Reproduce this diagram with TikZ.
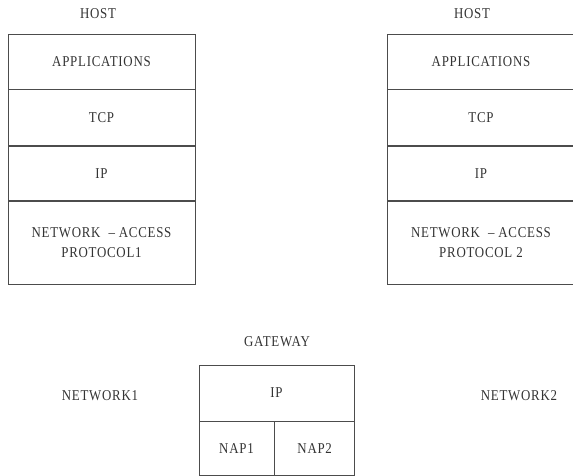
\documentclass[tikz,border=0pt]{standalone}
\usepackage{fontspec}
\setmainfont{Liberation Serif}[FakeStretch=0.86,LetterSpace=5]
\usepackage{tikz}
\usetikzlibrary{positioning}

\begin{document}
\begin{tikzpicture}[x=1pt,y=-1pt,
  every node/.style={font=\fontsize{15}{18}\selectfont, text=black!80},
  layer/.style={draw=black!70, line width=0.7pt, inner sep=0pt, align=center},
  lbl/.style={inner sep=0pt}]
\useasboundingbox (0,0) rectangle (573,476);
% host 1
\node[lbl] (host1) at (98,14) {HOST};
\node[layer, minimum width=187pt, minimum height=55pt] (app1) at (101.5,61.5) {APPLICATIONS};
\node[layer, minimum width=187pt, minimum height=56pt, below=0pt of app1] (tcp1) {TCP};
\node[layer, minimum width=187pt, minimum height=54pt, below=0pt of tcp1] (ip1) {IP};
\node[layer, minimum width=187pt, minimum height=83pt, below=0pt of ip1] (nap1) {NETWORK\ \ -- ACCESS\\[2pt]PROTOCOL1};
% host 2
\node[lbl] (host2) at (472,14) {HOST};
\node[layer, minimum width=188pt, minimum height=55pt] (app2) at (481,61.5) {APPLICATIONS};
\node[layer, minimum width=188pt, minimum height=56pt, below=0pt of app2] (tcp2) {TCP};
\node[layer, minimum width=188pt, minimum height=54pt, below=0pt of tcp2] (ip2) {IP};
\node[layer, minimum width=188pt, minimum height=83pt, below=0pt of ip2] (nap2) {NETWORK\ \ -- ACCESS\\[2pt]PROTOCOL 2};
% gateway
\node[lbl] (gw) at (277,342) {GATEWAY};
\node[layer, minimum width=155pt, minimum height=56pt] (gwip) at (276.5,393) {IP};
\node[layer, minimum width=75pt, minimum height=54pt, below right=0pt and 0pt of gwip.south west, anchor=north west] (gwnap1) {NAP1};
\node[layer, minimum width=80pt, minimum height=54pt, right=0pt of gwnap1] (gwnap2) {NAP2};
\node[lbl] (net1) at (100,396) {NETWORK1};
\node[lbl] (net2) at (519,396) {NETWORK2};
\end{tikzpicture}
\end{document}
